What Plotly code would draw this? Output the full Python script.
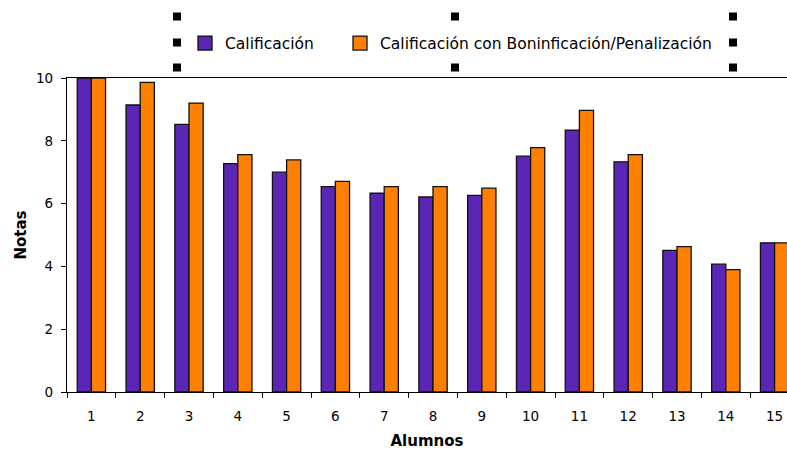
import plotly.graph_objects as go

alumnos = [str(i) for i in range(1, 16)]
calificacion = [10.0, 9.14, 8.52, 7.27, 7.0, 6.54, 6.33, 6.21, 6.26, 7.51, 8.34, 7.33, 4.51, 4.07, 4.75]
calif_bonif = [10.0, 9.86, 9.20, 7.56, 7.39, 6.71, 6.54, 6.54, 6.49, 7.78, 8.97, 7.56, 4.63, 3.90, 4.75]
y_ticks = [0, 2, 4, 6, 8, 10]
series_names = ["Calificación", "Calificación con Boninficación/Penalización"]
series_colors = ["#5B25B5", "#FF8000"]

W, H = 787, 453
ML, MR, MT, MB = 67, 0, 78, H - 392
PW, PH = W - ML - MR, H - MT - MB

def px_x(sx):
    return (sx - ML) / PW

def px_y(sy):
    return (H - MB - sy) / PH

FONT = "DejaVu Sans"

fig = go.Figure()
for i, (vals, nm, col) in enumerate(zip([calificacion, calif_bonif], series_names, series_colors)):
    fig.add_trace(go.Bar(x=alumnos, y=vals, name=nm, showlegend=False,
                         marker=dict(color=col, line=dict(color="#111111", width=1.3))))
    fig.add_trace(go.Scatter(x=[None], y=[None], mode="markers", name=nm,
                             legend="legend" if i == 0 else "legend2",
                             marker=dict(symbol="square", size=14, color=col,
                                         line=dict(color="#111111", width=1.3))))

# selection handles around the legend box
shapes = []
for hx in (177, 455, 733):
    for hy in (16.5, 42.5, 67.5):
        if hx == 455 and hy == 42.5:
            continue
        shapes.append(dict(type="rect", xref="paper", yref="paper",
                           xsizemode="pixel", ysizemode="pixel",
                           xanchor=px_x(hx), yanchor=px_y(hy),
                           x0=-4, x1=4, y0=-4, y1=4,
                           fillcolor="black", line=dict(width=0)))

leg_common = dict(orientation="h", xanchor="left", yanchor="middle", y=px_y(43.5),
                  font=dict(family=FONT, size=15.5), bgcolor="rgba(0,0,0,0)",
                  itemclick=False, itemdoubleclick=False)

# category 1 centre sits at x=92, step 48.8 px per category
cat_step = 48.8
left_edge = -0.5
right_edge = left_edge + PW / cat_step

fig.update_layout(
    width=W, height=H,
    margin=dict(l=ML, r=MR, t=MT, b=MB, autoexpand=False),
    paper_bgcolor="white", plot_bgcolor="white",
    barmode="group", bargap=0.42, bargroupgap=0,
    font=dict(family=FONT, color="black", size=13.5),
    showlegend=True,
    hovermode=False,
    legend=dict(x=px_x(185), **leg_common),
    legend2=dict(x=px_x(340), **leg_common),
    shapes=shapes,
    xaxis=dict(type="category", range=[left_edge, right_edge], showline=True, linecolor="black",
               linewidth=1.2, mirror=True, ticks="outside", tickson="boundaries", ticklen=5,
               tickcolor="black", tickfont=dict(size=13.5), ticklabelstandoff=12,
               showgrid=False, zeroline=False,
               title=dict(text="<b>Alumnos</b>", font=dict(size=15), standoff=12)),
    yaxis=dict(range=[0, 10], tickvals=y_ticks, showline=True, linecolor="black", linewidth=1.2,
               ticks="outside", ticklen=5, tickcolor="black", tickfont=dict(size=13.5),
               ticklabelstandoff=5, showgrid=False, zeroline=False,
               title=dict(text="<b>Notas</b>", font=dict(size=15), standoff=5)),
)

fig.write_html("out.html", config={"displayModeBar": False},
               post_script="document.body.style.margin='0';document.body.style.overflow='hidden';")
